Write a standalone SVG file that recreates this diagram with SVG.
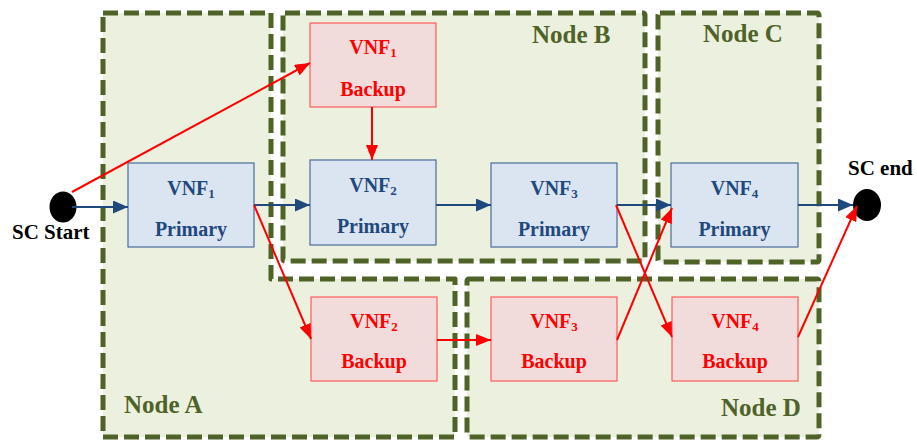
<svg xmlns="http://www.w3.org/2000/svg" width="917" height="441" viewBox="0 0 917 441">
<defs>
<style>
.node{fill:#EBF1DE;stroke:#4F6228;stroke-width:5;stroke-dasharray:15 6;stroke-linejoin:round}
.nlabel{font-family:'Liberation Serif','Times New Roman',serif;font-weight:700;font-size:25px;fill:#4F6228}
.prim{fill:#DBE5F1;stroke:#4A6C9B;stroke-width:1.2}
.back{fill:#F2DCDB;stroke:#FF5B5B;stroke-width:1.2}
.t{font-family:'Liberation Serif','Times New Roman',serif;font-weight:700;font-size:20px;text-anchor:middle}
.tp{fill:#1F497D}
.tb{fill:#FF0000}
.sub{font-size:13px}
.blue{stroke:#1F497D;stroke-width:2;fill:none;marker-end:url(#ab)}
.red{stroke:#FF0000;stroke-width:2;fill:none;marker-end:url(#ar)}
.sc{font-family:'Liberation Serif','Times New Roman',serif;font-weight:700;font-size:21px;fill:#000}
</style>
<marker id="ab" markerUnits="userSpaceOnUse" markerWidth="16" markerHeight="14" refX="15" refY="6.5" orient="auto"><path d="M0,0 L15,6.5 L0,13 Z" fill="#1F497D"/></marker>
<marker id="ar" markerUnits="userSpaceOnUse" markerWidth="16" markerHeight="14" refX="15" refY="6" orient="auto"><path d="M0,0 L15,6 L0,12 Z" fill="#FF0000"/></marker>
</defs>
<rect width="917" height="441" fill="#FFFFFF"/>
<g id="nodeA">
<path class="node" d="M103,13 H271 V279 H455 V437 H103 Z"/>
<text class="nlabel" x="124" y="413">Node A</text>
</g>
<g id="nodeB">
<rect class="node" x="283" y="13" width="362" height="248" rx="2"/>
<text class="nlabel" x="532" y="43">Node B</text>
</g>
<g id="nodeC">
<rect class="node" x="658" y="13" width="161" height="249" rx="2"/>
<text class="nlabel" x="703" y="42">Node C</text>
</g>
<g id="nodeD">
<rect class="node" x="467" y="279" width="352" height="158" rx="2"/>
<text class="nlabel" x="721" y="416">Node D</text>
</g>
<g id="scStart">
<ellipse cx="63" cy="207" rx="13.5" ry="15.5" fill="#000"/>
<text class="sc" x="12" y="239">SC Start</text>
</g>
<g id="scEnd">
<ellipse cx="867" cy="205" rx="14" ry="16" fill="#000"/>
<text class="sc" x="848" y="175">SC end</text>
</g>
<g id="vnf1Primary">
<rect class="prim" x="128" y="163" width="126" height="84"/>
<text class="t tp" x="191" y="195">VNF<tspan class="sub" dy="3">1</tspan></text>
<text class="t tp" x="191" y="236">Primary</text>
</g>
<g id="vnf1Backup">
<rect class="back" x="310" y="23" width="126" height="84"/>
<text class="t tb" x="373" y="54">VNF<tspan class="sub" dy="3">1</tspan></text>
<text class="t tb" x="373" y="96">Backup</text>
</g>
<g id="vnf2Primary">
<rect class="prim" x="310" y="160" width="126" height="85"/>
<text class="t tp" x="373" y="192">VNF<tspan class="sub" dy="3">2</tspan></text>
<text class="t tp" x="373" y="233">Primary</text>
</g>
<g id="vnf3Primary">
<rect class="prim" x="491" y="163" width="126" height="84"/>
<text class="t tp" x="554" y="195">VNF<tspan class="sub" dy="3">3</tspan></text>
<text class="t tp" x="554" y="236">Primary</text>
</g>
<g id="vnf4Primary">
<rect class="prim" x="671" y="163" width="127" height="84"/>
<text class="t tp" x="734.5" y="195">VNF<tspan class="sub" dy="3">4</tspan></text>
<text class="t tp" x="734.5" y="236">Primary</text>
</g>
<g id="vnf2Backup">
<rect class="back" x="311" y="297" width="126" height="84"/>
<text class="t tb" x="374" y="328">VNF<tspan class="sub" dy="3">2</tspan></text>
<text class="t tb" x="374" y="368">Backup</text>
</g>
<g id="vnf3Backup">
<rect class="back" x="491" y="297" width="126" height="84"/>
<text class="t tb" x="554" y="328">VNF<tspan class="sub" dy="3">3</tspan></text>
<text class="t tb" x="554" y="368">Backup</text>
</g>
<g id="vnf4Backup">
<rect class="back" x="672" y="297" width="126" height="84"/>
<text class="t tb" x="735" y="328">VNF<tspan class="sub" dy="3">4</tspan></text>
<text class="t tb" x="735" y="368">Backup</text>
</g>
<g id="connectors">
<line class="blue" x1="72" y1="207" x2="128" y2="207"/>
<line class="blue" x1="254" y1="205" x2="310" y2="205"/>
<line class="blue" x1="436" y1="205" x2="491" y2="205"/>
<line class="blue" x1="617" y1="205" x2="671" y2="205"/>
<line class="blue" x1="798" y1="205" x2="853" y2="205"/>
<line class="red" x1="72" y1="192" x2="310" y2="63"/>
<line class="red" x1="372" y1="107" x2="372" y2="160"/>
<line class="red" x1="254" y1="205" x2="311" y2="339"/>
<line class="red" x1="437" y1="340" x2="491" y2="340"/>
<line class="red" x1="617" y1="340" x2="672" y2="208"/>
<line class="red" x1="616" y1="205" x2="672" y2="337"/>
<line class="red" x1="798" y1="337" x2="857" y2="206"/>
</g>
</svg>
